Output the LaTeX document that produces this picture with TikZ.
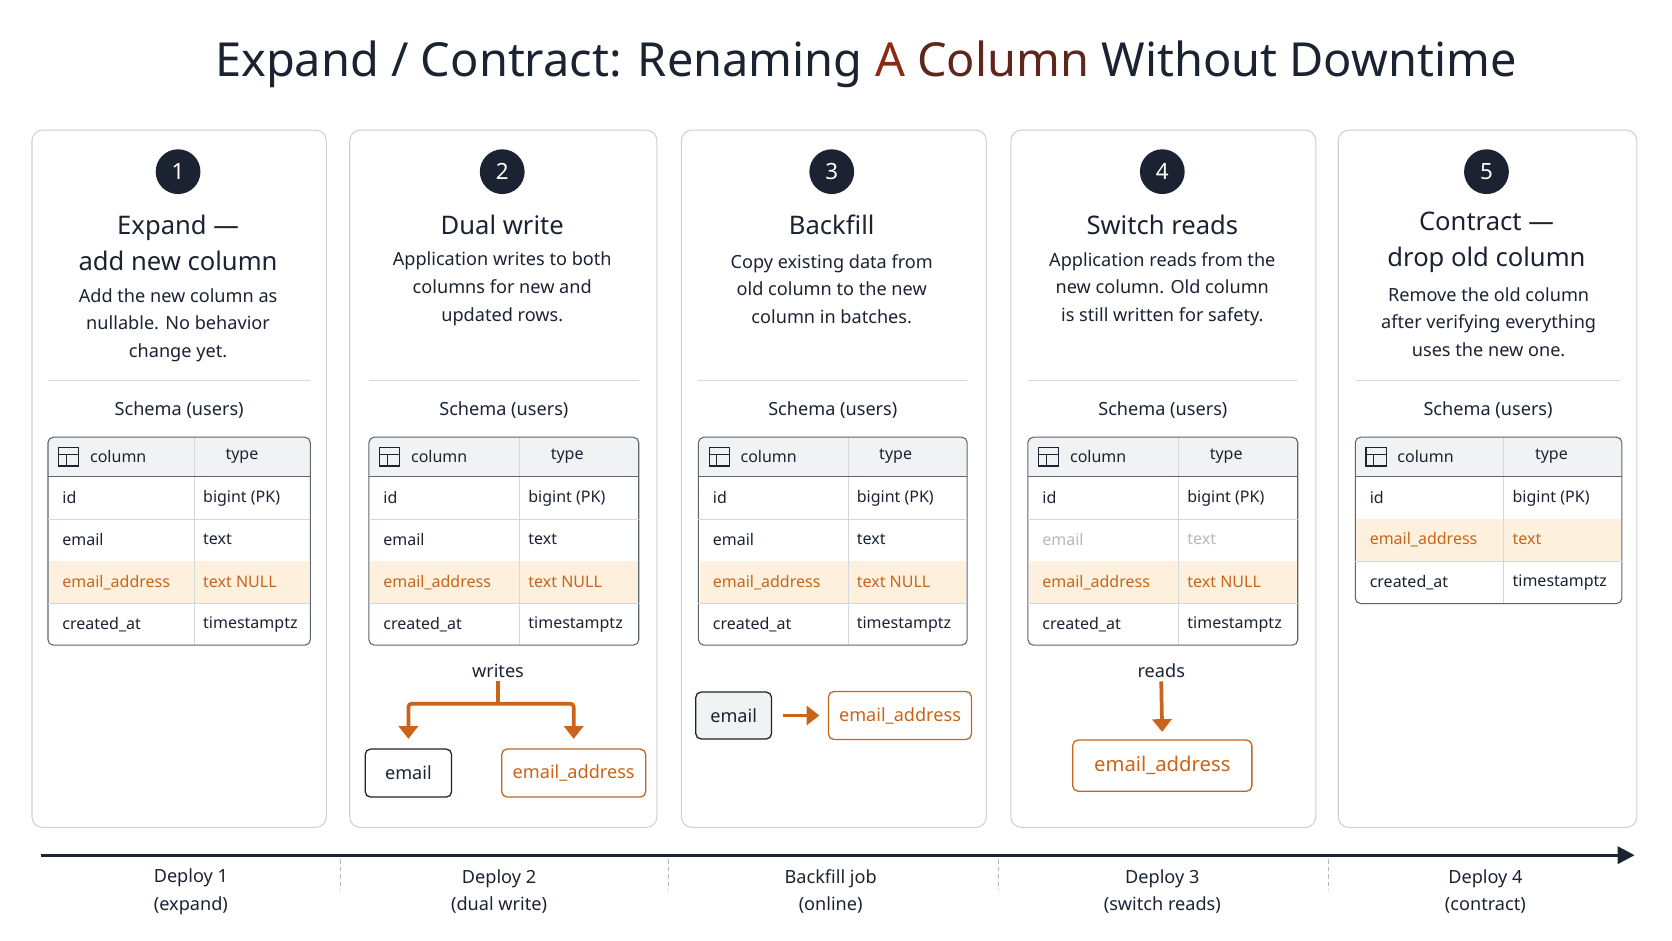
\documentclass[tikz,border=0pt]{standalone}
\usepackage{fontspec}
\setmainfont{Noto Sans}
\usepackage{tikz}
\usetikzlibrary{arrows.meta, positioning}
\definecolor{navy}{HTML}{1B2333}
\definecolor{accent}{HTML}{C8651B}
\definecolor{hilite}{HTML}{FDF1DE}
\definecolor{headfill}{HTML}{F1F2F4}
\definecolor{panelline}{HTML}{CDD1D6}
\definecolor{gridline}{HTML}{D4D7DB}
\definecolor{faded}{HTML}{B5B9BF}
\definecolor{rust}{HTML}{8B2A10}

\tikzset{
  panel/.style={draw=panelline, line width=1pt, rounded corners=10pt, fill=white},
  stepnum/.style={circle, fill=navy, text=white, minimum size=42pt, inner sep=0pt, font=\fontsize{21}{21}\selectfont\bfseries},
  ptitle/.style={text=navy, align=center, font=\fontsize{24}{34}\selectfont\bfseries},
  pdesc/.style={text=navy, align=center, font=\fontsize{17}{26}\selectfont},
  cell/.style={anchor=west, text=navy, font=\fontsize{15}{15}\selectfont},
  bcell/.style={cell, font=\fontsize{15}{15}\selectfont\bfseries},
  ocell/.style={cell, text=accent, font=\fontsize{15}{15}\selectfont\bfseries},
  gcell/.style={cell, text=faded},
  fbox/.style={draw=navy, line width=1.2pt, rounded corners=5pt, text=navy, font=\fontsize{17}{17}\selectfont\bfseries, inner sep=0pt},
  obox/.style={draw=accent, line width=1.2pt, rounded corners=5pt, text=accent, font=\fontsize{17}{17}\selectfont, inner sep=0pt},
  oarrow/.style={draw=accent, line width=3.5pt, -{Triangle[length=12pt, width=18pt]}},
  tick/.style={draw=faded, line width=1pt, dash pattern=on 4pt off 3pt},
  dlabel/.style={text=navy, align=center, font=\fontsize{17}{26}\selectfont},
}

% table frame: left, divider, right, bottom
\newcommand{\tframe}[4]{%
  \fill[headfill, rounded corners=5pt] (#1,410) rectangle (#3,447);
  \fill[headfill] (#1,430) rectangle (#3,447);
  \draw[gridline] (#2,410) -- (#2,#4);
  \draw[navy!70, line width=1pt] (#1,447) -- (#3,447);
  \draw[navy!70, line width=1pt, rounded corners=5pt] (#1,410) rectangle (#3,#4);
  \draw[navy, line width=1pt] (#1+10,420) rectangle (#1+29,437);
  \draw[navy, line width=0.8pt] (#1+10,426) -- (#1+29,426) (#1+17,426) -- (#1+17,437);
  \node[bcell] at (#1+36,428) {column};
  \node[bcell] at (#2+26,428) {type};
}
% row separators
\newcommand{\tline}[3]{\draw[gridline] (#1,#3) -- (#2,#3);}

\begin{document}
\begin{tikzpicture}[x=1pt, y=-1pt]
\useasboundingbox (0,0) rectangle (1568,882);
\fill[white] (0,0) rectangle (1568,882);

\node[text=navy, font=\fontsize{44}{44}\selectfont\bfseries] (title) at (812,60)
  {Expand / Contract: Renaming {\color{rust}A}~{\color{rust!60!navy}Column} Without Downtime};

% panels
\draw[panel] (30,122) rectangle (306,776);
\draw[panel] (328,122) rectangle (616,776);
\draw[panel] (639,122) rectangle (925,776);
\draw[panel] (948,122) rectangle (1234,776);
\draw[panel] (1255,122) rectangle (1535,776);

\foreach \cx/\n in {167/1, 471/2, 780/3, 1090/4, 1394/5}
  \node[stepnum] (s\n) at (\cx,161) {\n};

% headings
\node[ptitle] (t1) at (167,228) {Expand —\\add new column};
\node[pdesc]  (d1) at (167,305) {Add the new column as\\nullable. No behavior\\change yet.};
\node[ptitle] (t2) at (471,211) {Dual write};
\node[pdesc]  (d2) at (471,271) {Application writes to both\\columns for new and\\updated rows.};
\node[ptitle] (t3) at (780,211) {Backfill};
\node[pdesc]  (d3) at (780,271) {Copy existing data from\\old column to the new\\column in batches.};
\node[ptitle] (t4) at (1090,211) {Switch reads};
\node[pdesc]  (d4) at (1090,271) {Application reads from the\\new column. Old column\\is still written for safety.};
\node[ptitle] (t5) at (1394,227) {Contract —\\drop old column};
\node[pdesc]  (d5) at (1396,302) {Remove the old column\\after verifying everything\\uses the new one.};

% separators and schema captions
\foreach \a/\b in {45/291, 346/599, 655/907, 964/1217, 1271/1520} {
  \draw[gridline, line width=1pt] (\a,357) -- (\b,357);
  \node[text=navy, font=\fontsize{17}{17}\selectfont\bfseries] at ({(\a+\b)/2},385) {Schema (users)};
}

% four-row tables (panels 1-4)
\foreach \a/\m/\b/\k in {45/182/291/1, 346/487/599/2, 655/795/907/3, 964/1105/1217/4} {
  \fill[hilite] (\a+1,526) rectangle (\b-1,566);
  \tframe{\a}{\m}{\b}{605}
  \tline{\a}{\b}{487}
  \tline{\a}{\b}{566}
  \node[cell] at (\a+10,467) {id};
  \node[cell] at (\m+5,467) {bigint (PK)};
  \node[ocell] at (\a+10,546) {email\_address};
  \node[ocell, font=\fontsize{15}{15}\selectfont] at (\m+5,546) {text NULL};
  \node[bcell] at (\a+10,586) {created\_at};
  \node[cell] at (\m+5,586) {timestamptz};
}
\foreach \a/\m in {45/182, 346/487, 655/795} {
  \node[bcell] at (\a+10,506) {email};
  \node[cell] at (\m+5,506) {text};
}
\node[gcell] at (974,506) {email};
\node[gcell] at (1110,506) {text};

% contracted table (panel 5)
\fill[hilite] (1272,487) rectangle (1520,526);
\tframe{1271}{1410}{1521}{566}
\tline{1271}{1521}{526}
\node[cell] at (1281,467) {id};
\node[cell] at (1415,467) {bigint (PK)};
\node[ocell] at (1281,506) {email\_address};
\node[ocell, font=\fontsize{15}{15}\selectfont] at (1415,506) {text};
\node[bcell] at (1281,546) {created\_at};
\node[cell] at (1415,546) {timestamptz};

% dual write
\node[text=navy, font=\fontsize{17}{17}\selectfont\bfseries] (wr) at (467,629) {writes};
\node[fbox, minimum width=81pt, minimum height=45pt] (em2) at (383,725) {email};
\node[obox, minimum width=135pt, minimum height=45pt] (ea2) at (538,725) {email\_address};
\coordinate (wj) at (467,660);
\draw[accent, line width=3.5pt] (wr.south) -- (wj);
\draw[oarrow, rounded corners=3pt, shorten >=9pt] (wj) -| (em2.north);
\draw[oarrow, rounded corners=3pt, shorten >=9pt] (wj) -| (ea2.north);

% backfill
\node[fbox, fill=headfill, minimum width=71pt, minimum height=44pt] (em3) at (688,671) {email};
\node[obox, minimum width=134pt, minimum height=45pt] (ea3) at (844,671) {email\_address};
\draw[oarrow, shorten <=10pt, shorten >=8pt] (em3.east) -- (ea3.west);

% switch reads
\node[text=navy, font=\fontsize{17}{17}\selectfont\bfseries] (rd) at (1089,629) {reads};
\node[obox, minimum width=168pt, minimum height=48pt, font=\fontsize{19}{19}\selectfont\bfseries] (ea4) at (1090,718) {email\_address};
\draw[oarrow, shorten >=7pt] (rd.south) -- (ea4.north);

% timeline
\coordinate (tl0) at (38,802);
\coordinate (tl1) at (1533,802);
\draw[navy, line width=3pt, -{Triangle[length=16pt, width=16pt]}] (tl0) -- (tl1);
\foreach \x in {319, 627, 936, 1246}
  \draw[tick] (\x,806) -- (\x,835);
\node[dlabel] (p1) at (179,836) {Deploy 1\\(expand)};
\node[dlabel] (p2) at (468,836) {Deploy 2\\(dual write)};
\node[dlabel] (p3) at (779,836) {Backfill job\\(online)};
\node[dlabel] (p4) at (1090,836) {Deploy 3\\(switch reads)};
\node[dlabel] (p5) at (1393,836) {Deploy 4\\(contract)};

\end{tikzpicture}
\end{document}
